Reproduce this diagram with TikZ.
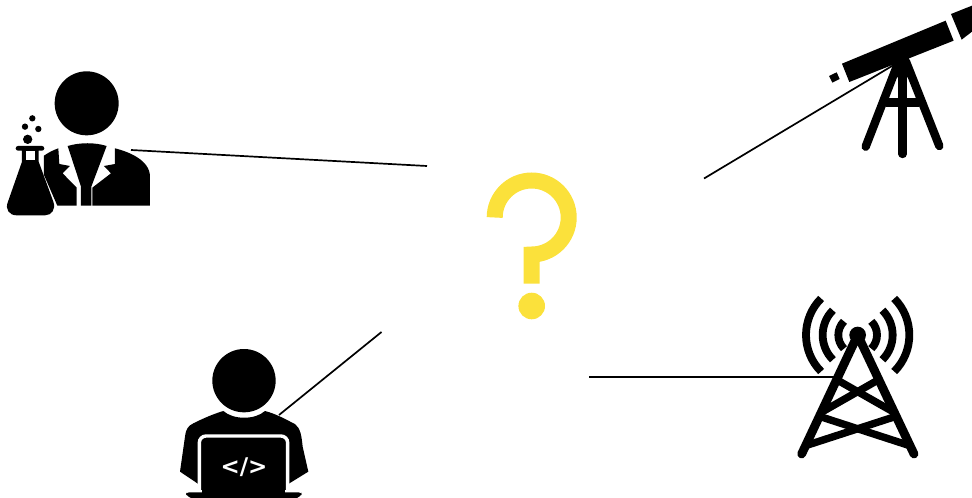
\documentclass[tikz,border=0pt]{standalone}
\usepackage{fontspec}
\setmainfont{DejaVu Sans}
\definecolor{qyellow}{HTML}{FBE13B}
\tikzset{
  wire/.style={line width=1.7pt,black},
  icon/.style={fill=black,draw=none},
  leg/.style={line width=8.4pt,line cap=round,black},
  mast/.style={line width=8.8pt,line cap=round,line join=round,black},
  brace/.style={line width=7.4pt,line cap=butt,black},
  wave/.style={line width=7.8pt,black},
  zoomA/.style={shift={(0,60)},x=0.3333pt,y=-0.3333pt},
  zoomB/.style={shift={(820,0)},x=0.3333pt,y=-0.3333pt},
  zoomC/.style={shift={(170,340)},x=0.3333pt,y=-0.3333pt},
  zoomD/.style={shift={(790,285)},x=0.3333pt,y=-0.3333pt}
}
\begin{document}
\begin{tikzpicture}[x=1pt,y=-1pt]
\useasboundingbox (0,0) rectangle (972,498);
% ---------- question mark
\draw[qyellow,line width=16pt] (494.7,217.5) arc[start angle=180,end angle=450,radius=37] -- (531.7,283.7);
\fill[qyellow] (531.7,306) circle[radius=13.3];
% ---------- connector free ends
\coordinate (hubA) at (427,166);
\coordinate (hubB) at (704,178.5);
\coordinate (hubC) at (381.5,332);
\coordinate (hubD) at (589,376.7);
\coordinate (sciPort) at (131,150);
\coordinate (telPort) at (897,63);
\coordinate (devPort) at (279,415);
\coordinate (towPort) at (836,376.7);
\draw[wire] (sciPort) -- (hubA);
\draw[wire] (telPort) -- (hubB);
\draw[wire] (devPort) -- (hubC);
\draw[wire] (towPort) -- (hubD);
% ---------- scientist
\begin{scope}[zoomA]
\fill (260,130) circle[radius=96];
\fill[icon] (132,287) .. controls (145,278) and (160,270) .. (175,265) -- (178,312) -- (210,318) -- (188,340) -- (230,383) -- (230,437) -- (172,437) -- (132,345) -- cycle;
\fill[icon] (345,265) .. controls (385,275) and (450,300) .. (450,350) -- (450,437) -- (277,437) -- (277,383) -- (333,340) -- (312,318) -- (345,312) -- cycle;
\fill[icon] (203,258) .. controls (240,247) and (285,247) .. (320,258) -- (274,380) -- (274,437) -- (243,437) -- (243,380) -- cycle;
\fill[icon] (54,258) -- (126,258) arc[start angle=-90,end angle=90,radius=7] -- (116,272) -- (116,305) -- (160,425) .. controls (168,448) and (155,466) .. (135,466) -- (50,466) .. controls (28,466) and (14,448) .. (24,425) -- (66,305) -- (66,272) -- (54,272) arc[start angle=90,end angle=270,radius=7] -- cycle;
\fill[white] (78,272) rectangle (105,301);
\fill (83,238) circle[radius=14];
\fill (75,200) circle[radius=9.5];
\fill (115,207) circle[radius=9.5];
\fill (97,175) circle[radius=9.5];
\end{scope}
% ---------- telescope
\begin{scope}[zoomB]
\fill[icon] (66,191) -- (377,62) -- (401,122) -- (88,246) -- cycle;
\fill[icon] (393,42) -- (456,17) -- (456,95) -- (425,119) -- cycle;
\fill[icon] (27,228) -- (50,217) -- (59,237) -- (37,248) -- cycle;
\fill[icon] (225,185) -- (266,170) -- (272,232) -- (222,232) -- cycle;
\draw[leg] (236,185) -- (137,440);
\draw[leg] (258,185) -- (358,438);
\draw[leg] (248,185) -- (248,462);
\draw[line width=8.4pt,black] (198,308) -- (298,308);
\end{scope}
% ---------- programmer
\begin{scope}[zoomC]
\fill (222,122) circle[radius=95];
\fill[icon] (160,213) .. controls (190,240) and (255,240) .. (285,213) .. controls (320,222) and (350,240) .. (375,252) .. controls (392,265) and (395,290) .. (398,320) -- (415,395) -- (355,432) -- (85,432) -- (30,395) -- (45,290) .. controls (48,265) and (55,258) .. (70,250) .. controls (100,235) and (130,222) .. (160,213) -- cycle;
\draw[white,line width=3.4pt,fill=black] (88,450) -- (88,308) arc[start angle=180,end angle=270,radius=20] -- (333,288) arc[start angle=270,end angle=360,radius=20] -- (353,450);
\fill[icon] (95,300) rectangle (345,460);
\fill[icon,rounded corners=3pt] (48,457) -- (395,457) -- (395,466) -- (370,480) -- (75,480) -- (48,466) -- cycle;
\node[white,font=\bfseries\fontsize{23}{23}\selectfont,inner sep=0pt] (code) at (222,381) {</>};
\end{scope}
% ---------- tower
\begin{scope}[zoomD]
\coordinate (wc) at (203,150);
\foreach \r in {58,105,155}{
  \draw[wave] ([shift={(135:\r)}]wc) arc[start angle=135,end angle=225,radius=\r];
  \draw[wave] ([shift={(45:\r)}]wc) arc[start angle=45,end angle=-45,radius=\r];
}
\fill (wc) circle[radius=25];
\draw[mast] (35,507) -- (203,150) -- (372,507);
\draw[brace] (140,284) -- (312,382);
\draw[brace] (266,284) -- (94,382);
\draw[brace] (88,394) -- (359,482);
\draw[brace] (318,394) -- (47,482);
\end{scope}
\end{tikzpicture}
\end{document}
